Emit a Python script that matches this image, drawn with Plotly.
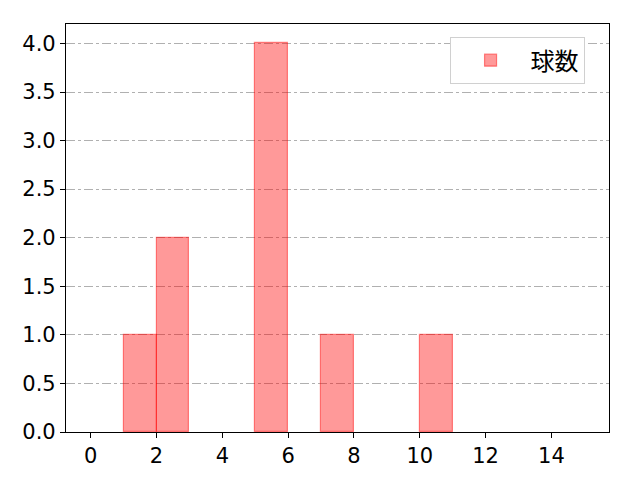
import plotly.graph_objects as go

# histogram bins (width 1, from 0 to 15) and counts per bin
bin_left = list(range(15))
counts = [0, 1, 2, 0, 0, 4, 0, 1, 0, 0, 1, 0, 0, 0, 0]
series_name = "球数"

x_ticks = [0, 2, 4, 6, 8, 10, 12, 14]
y_ticks = [0.0, 0.5, 1.0, 1.5, 2.0, 2.5, 3.0, 3.5, 4.0]

# empty bins are not drawn (matplotlib draws nothing visible there)
centers = [b + 0.5 for b, c in zip(bin_left, counts) if c > 0]
heights = [c for c in counts if c > 0]

fig = go.Figure()
fig.add_trace(go.Bar(
    x=centers, y=heights, width=1, name=series_name,
    marker=dict(color="rgba(255,0,0,0.4)",
                line=dict(color="rgba(255,0,0,0.45)", width=1.2)),
    showlegend=True,
))

font = "DejaVu Sans, Noto Sans CJK JP"
axis_common = dict(showline=True, linecolor="black", linewidth=1.2, mirror=True,
                   ticks="outside", ticklen=5, tickcolor="black",
                   tickfont=dict(size=21, color="black", family=font),
                   zeroline=False)

# page body has an 8px margin, so the figure is a bit smaller than the window
fig.update_layout(
    width=632, height=472,
    margin=dict(l=58, r=31, t=16, b=48),
    plot_bgcolor="white", paper_bgcolor="white",
    font=dict(family=font, color="black"),
    bargap=0,
    xaxis=dict(range=[-0.75, 15.75], tickvals=x_ticks, showgrid=False, **axis_common),
    yaxis=dict(range=[0, 4.2], tickvals=y_ticks, tickformat=".1f", showgrid=True,
               gridcolor="#b0b0b0", griddash="dashdot", gridwidth=1, **axis_common),
    legend=dict(x=0.955, y=0.968, xanchor="right", yanchor="top",
                bordercolor="#d0d0d0", borderwidth=1, bgcolor="white",
                itemwidth=70,
                font=dict(size=24, family="Noto Sans CJK JP")),
)

fig.write_html("out.html")
